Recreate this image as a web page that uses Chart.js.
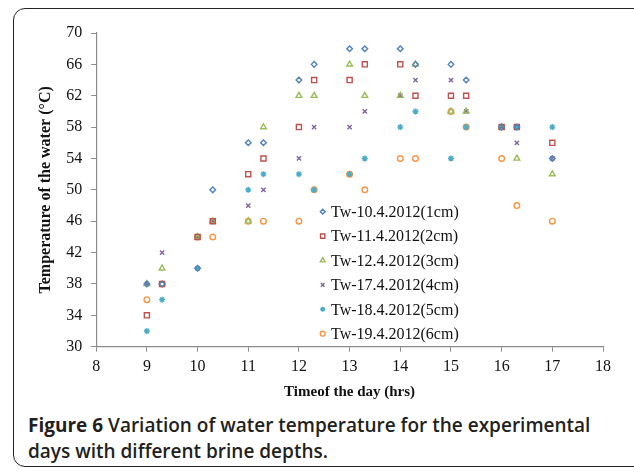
<!DOCTYPE html>
<html>
<head>
<meta charset="utf-8">
<script src="https://cdn.jsdelivr.net/npm/chart.js@4.4.1/dist/chart.umd.min.js"></script>
<style>
  html, body { margin: 0; padding: 0; background: #fff; overflow: hidden; width: 634px; height: 471px; }
  #frame { position: absolute; left: 13px; top: 8px; width: 640px; height: 459px; border: 1.5px solid #222; border-radius: 12px; box-sizing: border-box; }
  #wrap { position: absolute; left: 0; top: 0; width: 634px; height: 410px; }
  #cap { position: absolute; left: 28px; top: 413px; font-family: "Open Sans"; font-size: 19px; line-height: 25.5px; color: #231f20; font-weight: 600; white-space: nowrap; }
  #cap b { font-weight: 700; }
</style>
</head>
<body>
<div id="frame"></div>
<div id="wrap"><canvas id="myChart" width="634" height="410"></canvas></div>
<div id="cap"><b>Figure 6</b> Variation of water temperature for the experimental<br>days with different brine depths.</div>
<script>
// time of day (hrs), as plotted
const times = [9, 9.3, 10, 10.3, 11, 11.3, 12, 12.3, 13, 13.3, 14, 14.3, 15, 15.3, 16, 16.3, 17];

const tw1cm = [38, 38, 40, 50, 56, 56, 64, 66, 68, 68, 68, 66, 66, 64, 58, 58, 54];
const tw2cm = [34, 38, 44, 46, 52, 54, 58, 64, 64, 66, 66, 62, 62, 62, 58, 58, 56];
const tw3cm = [38, 40, 44, 46, 46, 58, 62, 62, 66, 62, 62, 66, 60, 60, 58, 54, 52];
const tw4cm = [38, 42, 44, 46, 48, 50, 54, 58, 58, 60, 62, 64, 64, 60, 58, 56, 54];
const tw5cm = [32, 36, 40, 46, 50, 52, 52, 50, 52, 54, 58, 60, 54, 58, 58, 58, 58];
const tw6cm = [36, 38, 44, 44, 46, 46, 46, 50, 52, 50, 54, 54, 60, 58, 54, 48, 46];

const seriesLabels = [
  "Tw-10.4.2012(1cm)", "Tw-11.4.2012(2cm)", "Tw-12.4.2012(3cm)",
  "Tw-17.4.2012(4cm)", "Tw-18.4.2012(5cm)", "Tw-19.4.2012(6cm)"
];
const seriesValues = [tw1cm, tw2cm, tw3cm, tw4cm, tw5cm, tw6cm];

const colors = ["#4f81bd", "#c0504d", "#9bbb59", "#8064a2", "#4bacc6", "#f79646"];
const styles = ["rectRot", "rect", "triangle", "crossRot", "star", "circle"];
const radii = [2.8, 3.6, 3.3, 3, 3, 2.8];

const datasets = seriesValues.map((vals, i) => ({
  label: seriesLabels[i],
  data: times.map((t, j) => ({ x: t, y: vals[j] })),
  borderColor: colors[i],
  backgroundColor: "rgba(255,255,255,0)",
  pointStyle: styles[i],
  pointRadius: radii[i],
  pointBorderWidth: 1.4,
  pointHoverRadius: radii[i],
}));

// legend drawn inside the plot, like the original
const insideLegend = {
  id: "insideLegend",
  afterDatasetsDraw(chart) {
    const ctx = chart.ctx;
    ctx.save();
    ctx.font = '16px "Liberation Serif"';
    ctx.textBaseline = "middle";
    chart.data.datasets.forEach((ds, i) => {
      const y = 211.7 + i * 24.4;
      ctx.strokeStyle = ds.borderColor;
      ctx.fillStyle = "rgba(255,255,255,0)";
      ctx.lineWidth = ds.pointBorderWidth;
      Chart.helpers.drawPoint(ctx, {
        pointStyle: ds.pointStyle, radius: ds.pointRadius * 0.85, rotation: 0, borderWidth: ds.pointBorderWidth
      }, 322.7, y);
      ctx.fillStyle = "#111";
      ctx.fillText(ds.label, 331, y + 1);
    });
    ctx.restore();
  }
};

Chart.defaults.font.family = '"Liberation Serif"';
Chart.defaults.color = "#111";

const ctx = document.getElementById("myChart");
new Chart(ctx, {
  type: "scatter",
  data: { datasets: datasets },
  plugins: [insideLegend],
  options: {
    responsive: false,
    animation: false,
    devicePixelRatio: 1,
    layout: { padding: { left: 0, top: 33, right: 31, bottom: 0 } },
    plugins: {
      legend: { display: false },
      tooltip: { enabled: false },
    },
    scales: {
      x: {
        min: 8,
        max: 18,
        ticks: { stepSize: 1, font: { size: 16 }, padding: 5, color: "#111" },
        grid: { drawOnChartArea: false, drawTicks: true, tickLength: 5, color: "#8c8c8c" },
        border: { color: "#8c8c8c", width: 1.2 },
        title: {
          display: true,
          text: "Timeof the day (hrs)",
          font: { size: 15, weight: "bold" },
          color: "#111",
          padding: { top: 0, bottom: 9 },
        },
        afterFit(scale) { scale.height = 63.3; },
      },
      y: {
        min: 30,
        max: 70,
        ticks: { stepSize: 4, font: { size: 16 }, padding: 9, color: "#111" },
        grid: { drawOnChartArea: false, drawTicks: true, tickLength: 5, color: "#8c8c8c" },
        border: { color: "#8c8c8c", width: 1.2 },
        title: {
          display: true,
          text: "Temperature of the water (°C)",
          font: { size: 16, weight: "bold" },
          color: "#111",
          padding: { top: 36, bottom: 0 },
        },
        afterFit(scale) { scale.width = 96.2; },
      },
    },
  },
});
</script>
</body>
</html>
